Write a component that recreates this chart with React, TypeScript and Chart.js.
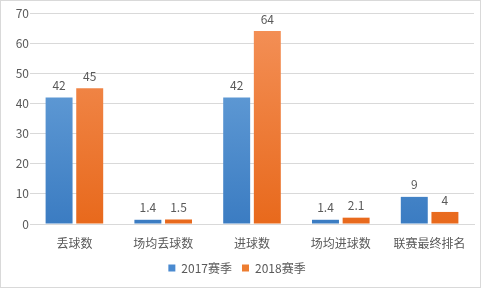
import React, { useEffect, useRef } from "react";
import { Chart, registerables } from "chart.js";

Chart.register(...registerables);

const categories = ["丢球数", "场均丢球数", "进球数", "场均进球数", "联赛最终排名"];
const season2017 = [42, 1.4, 42, 1.4, 9];
const season2018 = [45, 1.5, 64, 2.1, 4];
const seriesNames = ["2017赛季", "2018赛季"];
const yTicks = [0, 10, 20, 30, 40, 50, 60, 70];

const FONT = "'Noto Sans CJK SC', 'Microsoft YaHei', sans-serif";
const TEXT = "#595959";

function grad(ctx: any, top: string, bottom: string) {
  const chart = ctx.chart;
  const area = chart.chartArea;
  if (!area) return top;
  const g = chart.ctx.createLinearGradient(0, area.top, 0, area.bottom);
  g.addColorStop(0, top);
  g.addColorStop(1, bottom);
  return g;
}

const borderPlugin = {
  id: "frame",
  beforeDraw(chart: any) {
    const c = chart.ctx;
    c.save();
    c.fillStyle = "#ffffff";
    c.fillRect(0, 0, chart.width, chart.height);
    c.strokeStyle = "#d9d9d9";
    c.lineWidth = 1;
    c.strokeRect(0.5, 0.5, chart.width - 1, chart.height - 1);
    c.restore();
  },
};

const labelPlugin = {
  id: "valueLabels",
  afterDatasetsDraw(chart: any) {
    const c = chart.ctx;
    c.save();
    c.font = `12px ${FONT}`;
    c.fillStyle = TEXT;
    c.textAlign = "center";
    c.textBaseline = "bottom";
    chart.data.datasets.forEach((ds: any, i: number) => {
      const meta = chart.getDatasetMeta(i);
      meta.data.forEach((bar: any, j: number) => {
        c.fillText(String(ds.data[j]), bar.x, bar.y - 6);
      });
    });
    c.restore();
  },
};

export default function App() {
  const ref = useRef<HTMLCanvasElement>(null);
  useEffect(() => {
    if (!ref.current) return;
    const chart = new Chart(ref.current, {
      type: "bar",
      data: {
        labels: categories,
        datasets: [
          {
            label: seriesNames[0],
            data: season2017,
            backgroundColor: (ctx: any) => grad(ctx, "#72a9de", "#3b7cc2"),
            borderWidth: 0,
          },
          {
            label: seriesNames[1],
            data: season2018,
            backgroundColor: (ctx: any) => grad(ctx, "#f4925a", "#e8691c"),
            borderWidth: 0,
          },
        ],
      },
      options: {
        animation: false,
        responsive: false,
        devicePixelRatio: 1,
        layout: { padding: { left: 0, right: 7, top: 13, bottom: 4 } },
        datasets: {
          bar: { categoryPercentage: 0.69, barPercentage: 0.88 },
        },
        scales: {
          x: {
            grid: { display: false },
            border: { display: true, color: "#d9d9d9" },
            ticks: { color: TEXT, font: { size: 12, family: FONT }, padding: 4 },
            afterFit: (s: any) => { s.height = 28; },
          },
          y: {
            min: 0,
            max: 70,
            afterBuildTicks: (s: any) => { s.ticks = yTicks.map((v) => ({ value: v })); },
            grid: { color: "#d9d9d9", drawTicks: false },
            border: { display: false },
            ticks: { color: TEXT, font: { size: 12, family: FONT }, padding: 1 },
            afterFit: (s: any) => { s.width = 30; },
          },
        },
        plugins: {
          legend: {
            position: "bottom",
            labels: {
              color: TEXT,
              font: { size: 12, family: FONT },
              boxWidth: 7,
              boxHeight: 7,
              padding: 10,
              generateLabels: () => [
                { text: seriesNames[0], fillStyle: "#4a8ad0", strokeStyle: "#4a8ad0", lineWidth: 0, datasetIndex: 0, fontColor: TEXT },
                { text: seriesNames[1], fillStyle: "#ed7d31", strokeStyle: "#ed7d31", lineWidth: 0, datasetIndex: 1, fontColor: TEXT },
              ],
            },
          },
          tooltip: { enabled: false },
        },
      },
      plugins: [borderPlugin, labelPlugin],
    });
    return () => chart.destroy();
  }, []);
  return (
    <div style={{ position: "absolute", left: 0, top: 0, width: 481, height: 288 }}>
      <canvas ref={ref} width={481} height={288} style={{ width: 481, height: 288 }} />
    </div>
  );
}
